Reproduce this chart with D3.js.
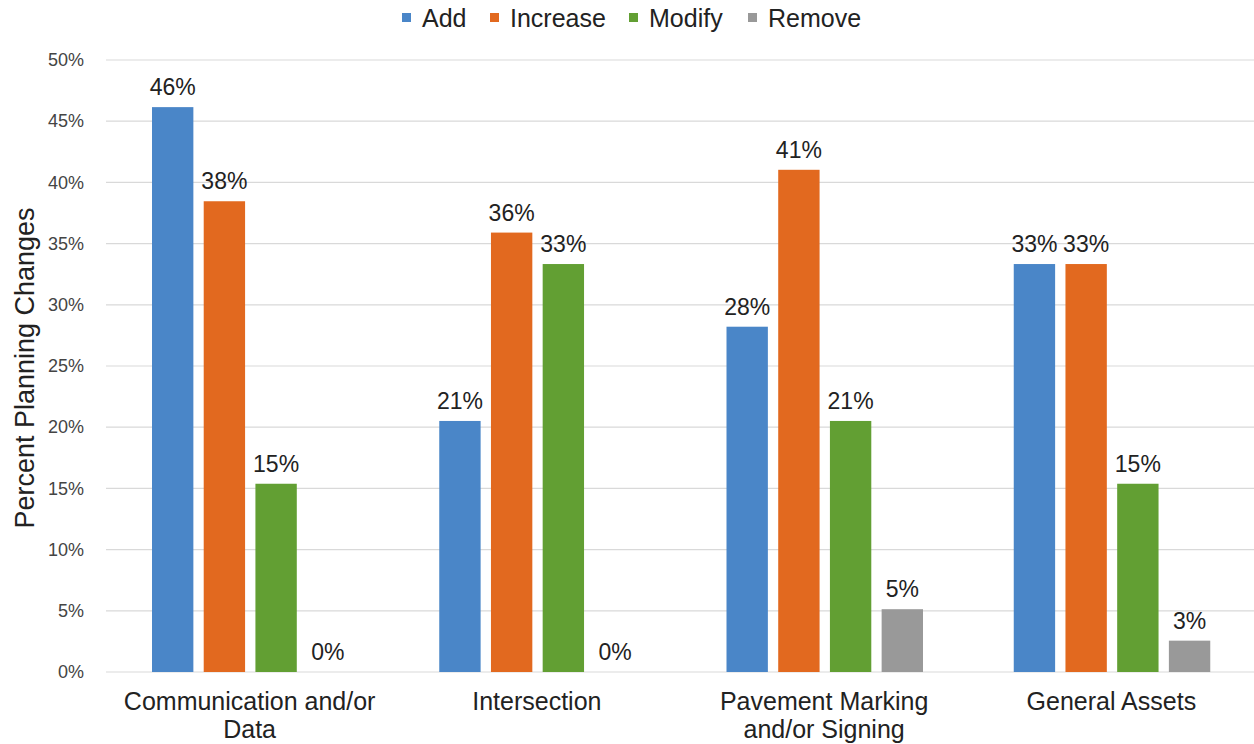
<!DOCTYPE html>
<html>
<head>
<meta charset="utf-8">
<script src="https://cdn.jsdelivr.net/npm/d3@7"></script>
<style>
  body { margin: 0; background: #fff; }
  text { font-family: "Liberation Sans", Arial, sans-serif; fill: #222; }
</style>
</head>
<body>
<div class="chart-wrapper"></div>
<script>
var categories = [["Communication and/or", "Data"], ["Intersection"], ["Pavement Marking", "and/or Signing"], ["General Assets"]];
var seriesNames = ["Add", "Increase", "Modify", "Remove"];
var seriesColors = ["#4a86c8", "#e2691f", "#629f33", "#999999"];
var addValues      = [0.4615, 0.2051, 0.2821, 0.3333];
var increaseValues = [0.3846, 0.3590, 0.4103, 0.3333];
var modifyValues   = [0.1538, 0.3333, 0.2051, 0.1538];
var removeValues   = [0.0, 0.0, 0.0513, 0.0256];
var yTicks = [0, 0.05, 0.1, 0.15, 0.2, 0.25, 0.3, 0.35, 0.4, 0.45, 0.5];

var allSeries = [addValues, increaseValues, modifyValues, removeValues];

var Svgwidth = 1254, Svgheight = 744;
var margin = {top: 60, right: -1, bottom: 72, left: 106};
var width = Svgwidth - margin.left - margin.right;
var height = Svgheight - margin.top - margin.bottom;

var svg = d3.select(".chart-wrapper").append("svg")
        .attr("width", Svgwidth)
        .attr("height", Svgheight);
var g = svg.append("g").attr("transform", "translate(" + margin.left + "," + margin.top + ")");

var x0 = d3.scaleBand().domain(d3.range(categories.length)).range([0, width]).paddingInner(0).paddingOuter(0);
var x1 = d3.scaleBand().domain(seriesNames).range([46, 242.5]).paddingInner(0.2);
var y = d3.scaleLinear().domain([0, 0.5]).range([height, 0]);

// gridlines
g.append("g").selectAll("line")
    .data(yTicks)
    .enter().append("line")
    .attr("x1", 0).attr("x2", width)
    .attr("y1", function (d) { return y(d); })
    .attr("y2", function (d) { return y(d); })
    .style("stroke", "#d9d9d9").style("stroke-width", 1.2);

// y axis labels
var yAxis = d3.axisLeft(y).tickValues(yTicks).tickFormat(d3.format(".0%")).tickSize(0).tickPadding(22);
var ya = g.append("g").call(yAxis);
ya.select(".domain").remove();
ya.selectAll("text").style("font-size", "18px").style("fill", "#444");

// bars
var groups = g.selectAll(".cat")
    .data(categories)
    .enter().append("g")
    .attr("class", "cat")
    .attr("transform", function (d, i) { return "translate(" + x0(i) + ",0)"; });

groups.each(function (c, ci) {
    var grp = d3.select(this);
    seriesNames.forEach(function (s, si) {
        var v = allSeries[si][ci];
        grp.append("rect")
            .attr("x", x1(s))
            .attr("y", y(v))
            .attr("width", x1.bandwidth())
            .attr("height", height - y(v))
            .style("fill", seriesColors[si]);
        grp.append("text")
            .attr("x", x1(s) + x1.bandwidth() / 2)
            .attr("y", y(v) - 12)
            .attr("text-anchor", "middle")
            .style("font-size", "23px")
            .text(d3.format(".0%")(v));
    });
    var lbl = grp.append("text")
        .attr("x", x0.bandwidth() / 2)
        .attr("y", height + 38)
        .attr("text-anchor", "middle")
        .style("font-size", "25px");
    c.forEach(function (line, li) {
        lbl.append("tspan")
            .attr("x", x0.bandwidth() / 2)
            .attr("dy", li === 0 ? 0 : 28)
            .text(line);
    });
});

// y title
svg.append("text")
    .attr("transform", "translate(34," + (margin.top + height / 2 + 2) + ") rotate(-90)")
    .attr("text-anchor", "middle")
    .style("font-size", "27px")
    .text("Percent Planning Changes");

// legend
var legendX = [402, 490, 629, 748];
var legend = svg.append("g");
seriesNames.forEach(function (s, i) {
    legend.append("rect")
        .attr("x", legendX[i]).attr("y", 13)
        .attr("width", 9).attr("height", 9)
        .style("fill", seriesColors[i]);
    legend.append("text")
        .attr("x", legendX[i] + 20).attr("y", 27)
        .style("font-size", "25px")
        .text(s);
});
</script>
</body>
</html>
